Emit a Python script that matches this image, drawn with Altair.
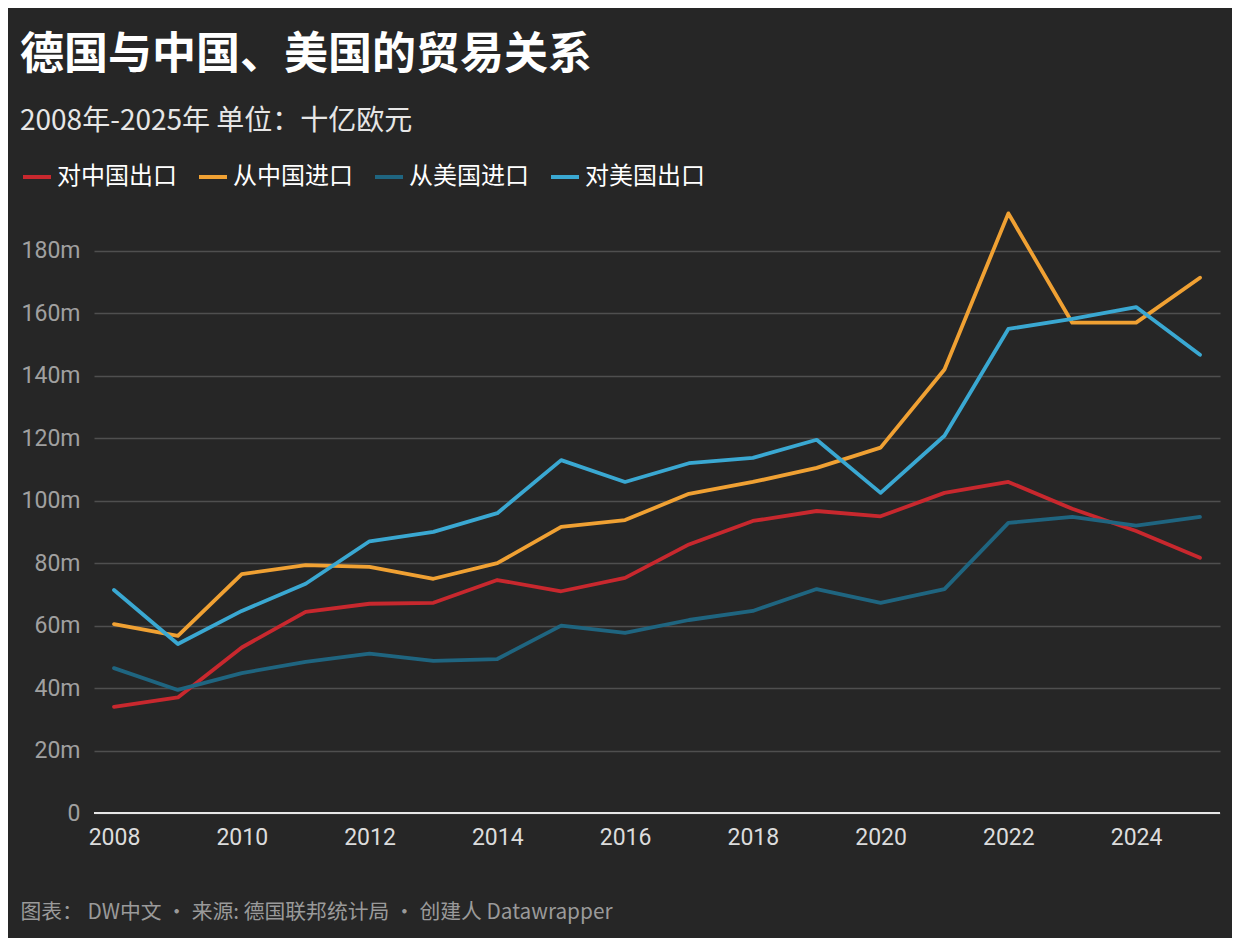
import altair as alt
import pandas as pd

years = list(range(2008, 2026))
series_names = ["对中国出口", "从中国进口", "从美国进口", "对美国出口"]
colors = ["#c8282e", "#f0a133", "#1f6580", "#3aa8d2"]

export_cn = [34.0, 37.0, 53.0, 64.4, 67.0, 67.3, 74.6, 71.0, 75.3, 86.0, 93.5, 96.7, 95.0, 102.5, 106.0, 97.4, 90.3, 81.7]
import_cn = [60.5, 56.7, 76.5, 79.4, 78.8, 75.0, 80.0, 91.6, 93.8, 102.2, 106.0, 110.5, 117.0, 142.0, 192.0, 157.0, 157.0, 171.4]
import_us = [46.4, 39.4, 44.8, 48.4, 51.0, 48.7, 49.3, 60.0, 57.7, 61.8, 64.7, 71.7, 67.3, 71.7, 92.9, 94.8, 92.0, 94.8]
export_us = [71.4, 54.1, 64.7, 73.4, 87.0, 90.0, 96.0, 113.0, 106.0, 112.0, 113.7, 119.5, 102.5, 120.8, 155.0, 158.2, 162.0, 146.7]

y_ticks = [0, 20, 40, 60, 80, 100, 120, 140, 160, 180]
x_ticks = [2008, 2010, 2012, 2014, 2016, 2018, 2020, 2022, 2024]
baseline = [0]

rows = []
for name, vals in zip(series_names, [export_cn, import_cn, import_us, export_us]):
    for yr, v in zip(years, vals):
        rows.append({"year": yr, "value": v, "series": name})
df = pd.DataFrame(rows)

FONT = "Roboto, Noto Sans CJK SC, sans-serif"
CJK = "Noto Sans CJK SC, Roboto, sans-serif"

x_enc = alt.X("year:Q",
              scale=alt.Scale(domain=[2007.687, 2025.313], nice=False, zero=False),
              axis=alt.Axis(values=x_ticks, format="d", grid=False, domain=False, ticks=False,
                            labelFontSize=23, labelColor="#dcdcdc", labelPadding=13, labelFont=FONT,
                            title="图表： DW中文 • 来源: 德国联邦统计局 • 创建人 Datawrapper",
                            titleX=-74, titleY=99, titleAlign="left", titleBaseline="middle",
                            titleAnchor="start", titleFontSize=20.8, titleFontWeight="normal",
                            titleColor="#9a9a9a", titleFont=CJK))
y_scale = alt.Scale(domain=[0, 195], nice=False)

lines = alt.Chart(df).mark_line(strokeWidth=3.8, strokeCap="round", strokeJoin="round").encode(
    x=x_enc,
    y=alt.Y("value:Q", scale=y_scale,
            axis=alt.Axis(values=y_ticks, labelExpr="datum.value == 0 ? '0' : datum.value + 'm'",
                          grid=True, gridColor="#4f4f4f", gridWidth=1.5, domain=False, ticks=False,
                          labelFontSize=23, labelColor="#a0a0a0", labelPadding=14, labelFont=FONT,
                          title=None)),
    color=alt.Color("series:N",
                    scale=alt.Scale(domain=series_names, range=colors),
                    legend=alt.Legend(orient="none", legendX=-73, legendY=-43, direction="horizontal",
                                      title=None, symbolType="stroke", symbolSize=784,
                                      symbolStrokeWidth=4, labelFontSize=24, labelColor="#ffffff",
                                      labelFont=CJK, labelOffset=4, columnPadding=14,
                                      symbolOpacity=1)),
    order=alt.Order("series:N"),
)

zero_rule = alt.Chart(pd.DataFrame({"v": baseline})).mark_rule(color="#e6e6e6", strokeWidth=2).encode(
    y=alt.Y("v:Q", scale=y_scale)
)

chart = alt.layer(zero_rule, lines).properties(
    width=1126,
    height=609,
    autosize="none",
    padding={"left": 86, "top": 196, "right": 12, "bottom": 125},
    background="#262626",
    title=alt.TitleParams(
        text="德国与中国、美国的贸易关系",
        subtitle="2008年-2025年 单位：十亿欧元",
        anchor="start", frame="group", dx=-74, offset=25,
        fontSize=44, fontWeight="bold", color="#ffffff", font=CJK,
        subtitleFontSize=28, subtitleColor="#e6e6e6", subtitleFont=CJK, subtitlePadding=30,
    ),
).configure_view(stroke=None)

chart.save("out.html", embed_options={"renderer": "svg", "actions": False})
